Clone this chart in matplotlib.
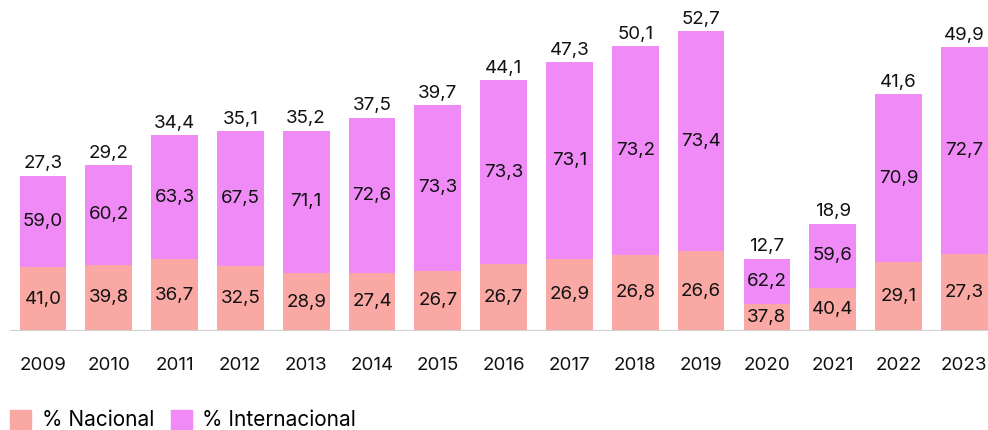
import matplotlib
matplotlib.use("Agg")
import matplotlib.pyplot as plt
from matplotlib.patches import Patch
import numpy as np

plt.rcParams['font.family'] = ['Inter', 'DejaVu Sans']

years = ['2009', '2010', '2011', '2012', '2013', '2014', '2015', '2016',
         '2017', '2018', '2019', '2020', '2021', '2022', '2023']
totals = [27.3, 29.2, 34.4, 35.1, 35.2, 37.5, 39.7, 44.1,
          47.3, 50.1, 52.7, 12.7, 18.9, 41.6, 49.9]
pct_nacional = [41.0, 39.8, 36.7, 32.5, 28.9, 27.4, 26.7, 26.7,
                26.9, 26.8, 26.6, 37.8, 40.4, 29.1, 27.3]
pct_internacional = [59.0, 60.2, 63.3, 67.5, 71.1, 72.6, 73.3, 73.3,
                     73.1, 73.2, 73.4, 62.2, 59.6, 70.9, 72.7]

c_nac = '#F9A8A3'
c_int = '#F08AF7'

def fmt(v):
    return f'{v:.1f}'.replace('.', ',')

fig = plt.figure(figsize=(9.88, 4.30), dpi=100)
ax = fig.add_axes([10 / 988, 99 / 430, 978 / 988, 331 / 430])

x = np.arange(len(years))
tot = np.array(totals)
nac = tot * np.array(pct_nacional) / 100
intl = tot - nac
w = 0.71

ax.bar(x, nac, w, color=c_nac, zorder=2)
ax.bar(x, intl, w, bottom=nac, color=c_int, zorder=2)

fs = 13.5
for i in range(len(years)):
    ax.text(x[i], nac[i] / 2, fmt(pct_nacional[i]), ha='center', va='center',
            fontsize=fs, color='#111111')
    ax.text(x[i], nac[i] + intl[i] / 2, fmt(pct_internacional[i]), ha='center',
            va='center', fontsize=fs, color='#111111')
    ax.text(x[i], tot[i] + 0.6, fmt(totals[i]), ha='center', va='bottom',
            fontsize=fs, color='#111111')

ax.axhline(0, color='#cfcfcf', lw=1.5, zorder=3)
ax.set_xlim(-0.5, 14.36)
ax.set_ylim(0, 58.2)
ax.set_xticks(x)
ax.set_xticklabels(years, fontsize=fs, color='#111111')
ax.tick_params(axis='x', length=0, pad=19)
ax.set_yticks([])
for s in ax.spines.values():
    s.set_visible(False)

handles = [Patch(color=c_nac, label='% Nacional'),
           Patch(color=c_int, label='% Internacional')]
fig.legend(handles=handles, loc='lower left', bbox_to_anchor=(0, -0.025),
           ncol=2, frameon=False, fontsize=15, handlelength=1.0,
           handleheight=1.0, handletextpad=0.5, columnspacing=0.8,
           borderaxespad=0.2, borderpad=0.3)

fig.savefig('out.png', dpi=100)
